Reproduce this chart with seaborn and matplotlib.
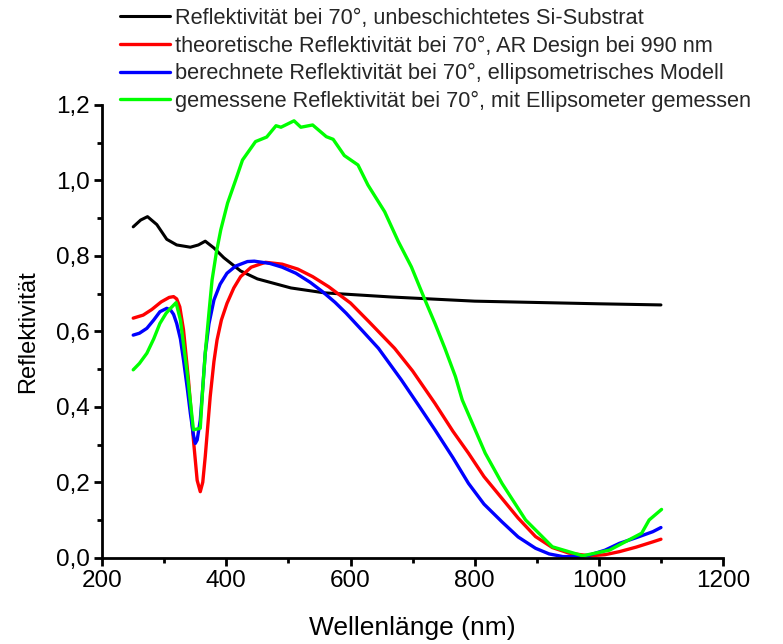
import matplotlib
matplotlib.use("Agg")
import matplotlib.pyplot as plt
from matplotlib.ticker import MultipleLocator, FuncFormatter
import seaborn as sns
import pandas as pd

# Data (wavelength nm, reflectivity)
black_x = [250, 262, 273, 288, 304, 320, 342, 355, 366, 380, 396, 423, 450, 504, 558, 666, 800, 1000, 1100]
black_y = [0.877, 0.895, 0.904, 0.883, 0.844, 0.829, 0.823, 0.829, 0.839, 0.821, 0.795, 0.760, 0.739, 0.715, 0.702, 0.691, 0.680, 0.673, 0.670]

red_x = [250, 266, 280, 295, 308, 315, 320, 325, 331, 339, 347, 353, 358, 362, 366, 374, 380, 385, 392, 401, 412, 423, 440, 463,
         490, 515, 539, 565, 582, 600, 630, 671, 700, 736, 765, 790, 815, 844, 870, 898, 925, 952, 985, 1010, 1033, 1060, 1087, 1100]
red_y = [0.635, 0.643, 0.658, 0.678, 0.690, 0.692, 0.686, 0.665, 0.604, 0.471, 0.312, 0.205, 0.175, 0.200, 0.268, 0.427, 0.520, 0.577, 0.630, 0.674, 0.715, 0.745, 0.770, 0.783,
         0.778, 0.765, 0.745, 0.718, 0.697, 0.675, 0.625, 0.555, 0.495, 0.409, 0.335, 0.277, 0.215, 0.157, 0.105, 0.056, 0.027, 0.012, 0.005, 0.008, 0.016, 0.028, 0.042, 0.049]

blue_x = [250, 260, 272, 283, 293, 304, 310, 315, 320, 326, 331, 337, 342, 347, 350, 353, 358, 362, 366, 372, 380, 390, 401, 415, 434,
          445, 470, 490, 512, 535, 555, 575, 593, 620, 645, 682, 710, 736, 765, 790, 815, 844, 870, 898, 920, 942, 965, 985, 1010, 1033, 1060, 1087, 1100]
blue_y = [0.590, 0.595, 0.608, 0.630, 0.652, 0.661, 0.657, 0.645, 0.621, 0.580, 0.524, 0.450, 0.383, 0.325, 0.303, 0.312, 0.365, 0.450, 0.542, 0.620, 0.683, 0.725, 0.754, 0.773, 0.785,
          0.786, 0.780, 0.770, 0.754, 0.730, 0.705, 0.677, 0.648, 0.600, 0.555, 0.471, 0.403, 0.339, 0.265, 0.197, 0.142, 0.095, 0.055, 0.025, 0.010, 0.003, 0.003, 0.007, 0.020, 0.038, 0.053, 0.069, 0.080]

green_x = [250, 260, 272, 283, 293, 303, 310, 319, 326, 337, 347, 358, 362, 366, 372, 377, 384, 391, 402, 415, 426, 447, 465, 480, 488, 509, 520, 539, 561, 572, 590,
           612, 628, 655, 677, 698, 720, 736, 752, 769, 780, 817, 844, 882, 925, 974, 1017, 1069, 1081, 1101]
green_y = [0.498, 0.515, 0.542, 0.580, 0.621, 0.648, 0.661, 0.676, 0.630, 0.489, 0.339, 0.343, 0.450, 0.542, 0.650, 0.736, 0.810, 0.869, 0.940, 1.001, 1.054, 1.103, 1.115, 1.145, 1.141, 1.158, 1.141, 1.147, 1.116, 1.109, 1.066,
           1.041, 0.988, 0.917, 0.838, 0.771, 0.683, 0.621, 0.555, 0.480, 0.418, 0.277, 0.197, 0.100, 0.029, 0.005, 0.020, 0.065, 0.100, 0.128]

labels = [
    "Reflektivität bei 70°, unbeschichtetes Si-Substrat",
    "theoretische Reflektivität bei 70°, AR Design bei 990 nm",
    "berechnete Reflektivität bei 70°, ellipsometrisches Modell",
    "gemessene Reflektivität bei 70°, mit Ellipsometer gemessen",
]
colors = ["#000000", "#ff0000", "#0000ff", "#00ff00"]

sns.set_theme(style="ticks")
plt.rcParams["font.family"] = ["Liberation Sans", "DejaVu Sans"]

fig = plt.figure(figsize=(7.83, 6.44), dpi=100)
ax = fig.add_axes([0.1305, 0.134, 0.7929, 0.703])

series = [(black_x, black_y), (red_x, red_y), (blue_x, blue_y), (green_x, green_y)]
lws = [2.2, 2.4, 2.4, 2.4]
for (xs, ys), lab, col, lw in zip(series, labels, colors, lws):
    df = pd.DataFrame({"x": xs, "y": ys})
    sns.lineplot(data=df, x="x", y="y", ax=ax, color=col, lw=lw, label=lab,
                 estimator=None, sort=False, legend=False)

ax.set_xlim(200, 1200)
ax.set_ylim(0, 1.2)
ax.xaxis.set_major_locator(MultipleLocator(200))
ax.xaxis.set_minor_locator(MultipleLocator(100))
ax.yaxis.set_major_locator(MultipleLocator(0.2))
ax.yaxis.set_minor_locator(MultipleLocator(0.1))
ax.yaxis.set_major_formatter(FuncFormatter(lambda v, p: f"{v:.1f}".replace(".", ",")))

for s in ["top", "right"]:
    ax.spines[s].set_visible(False)
for s in ["left", "bottom"]:
    ax.spines[s].set_linewidth(2.0)
    ax.spines[s].set_color("black")
ax.tick_params(which="major", direction="out", length=6, width=2.0, labelsize=17.5, colors="black", pad=3)
ax.tick_params(which="minor", direction="out", length=3.5, width=2.0, colors="black")
ax.set_xlabel("Wellenlänge (nm)", fontsize=19, labelpad=17, color="black")
ax.set_ylabel("Reflektivität", fontsize=17, labelpad=12, color="black")

handles = ax.get_lines()[:4]
fig.legend(handles, labels, loc="upper left", bbox_to_anchor=(120 / 783, 1 - 8 / 644),
           bbox_transform=fig.transFigure, frameon=False,
           prop={"family": "Liberation Sans", "size": 15.7},
           handlelength=2.3, handletextpad=0.23, labelspacing=0.3, borderpad=0, borderaxespad=0)

fig.savefig("out.png", dpi=100)
